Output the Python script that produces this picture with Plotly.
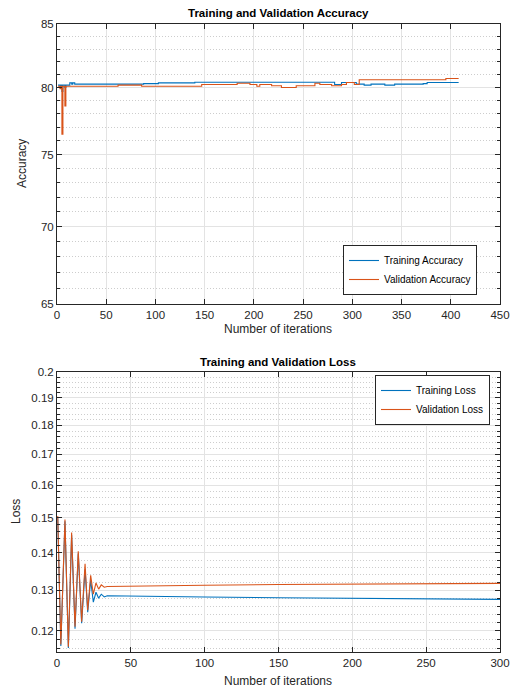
import math
import plotly.graph_objects as go

# ---------------- Data ----------------
# Accuracy (step change points: iteration -> value)
acc_train_iter = [1, 3, 4, 5, 6, 8, 9, 13, 15, 16, 18, 88, 103, 140, 282, 289, 304, 312, 319, 333, 343, 372, 376, 408]
acc_train_val = [80.18, 80.0, 80.18, 79.7, 80.18, 80.0, 80.18, 80.36, 80.26, 80.36, 80.26, 80.3, 80.36, 80.4,
                 80.23, 80.38, 80.26, 80.18, 80.26, 80.18, 80.26, 80.3, 80.38, 80.38]

acc_val_iter = [1, 3, 4, 5, 6, 8, 9, 62, 86, 147, 183, 196, 203, 206, 218, 228, 243, 262, 267, 279, 289, 294,
                302, 307, 395, 408]
acc_val_val = [80.1, 79.9, 80.1, 76.5, 80.1, 78.6, 80.1, 80.18, 80.1, 80.23, 80.33, 80.23, 80.1, 80.23, 80.13,
               80.0, 80.13, 80.33, 80.23, 80.13, 80.23, 80.38, 80.23, 80.6, 80.7, 80.7]

# Loss
loss_iter = [0.5, 2.6, 5.4, 7.7, 9.9, 12.2, 14.4, 16.7, 19, 20.8, 22.8, 24.6, 26.4, 28.2, 30, 32, 34,
             50, 100, 150, 200, 250, 300]
train_loss = [0.1500, 0.1165, 0.1490, 0.1160, 0.1450, 0.1205, 0.1398, 0.1218, 0.1355, 0.1245, 0.1326, 0.1270,
              0.1295, 0.1280, 0.1290, 0.1283, 0.1286, 0.1285, 0.1283, 0.1281, 0.1280, 0.1279, 0.1277]
val_loss = [0.1505, 0.1168, 0.1495, 0.1163, 0.1457, 0.1210, 0.1404, 0.1222, 0.1370, 0.1250, 0.1339, 0.1290,
            0.1319, 0.1303, 0.1314, 0.1308, 0.1310, 0.1311, 0.1313, 0.1315, 0.1316, 0.1317, 0.1318]

acc_ticks = [65, 70, 75, 80, 85]
acc_minor = [v for v in range(66, 85) if v % 5 != 0]
loss_ticks = [0.12, 0.13, 0.14, 0.15, 0.16, 0.17, 0.18, 0.19, 0.2]
loss_ticktext = ["0.12", "0.13", "0.14", "0.15", "0.16", "0.17", "0.18", "0.19", "0.2"]
loss_minor = [round(0.116 + 0.002 * i, 3) for i in range(43)]
loss_minor = [v for v in loss_minor if v < 0.2 and round(v * 1000) % 10 != 0]

BLUE = "#0072BD"
ORANGE = "#D95319"
AX = "#262626"
GRID = "#e3e3e3"
MINOR = "#cdcdcd"
FONT = "Liberation Sans, Arial, sans-serif"

fig = go.Figure()
fig.add_trace(go.Scatter(x=acc_train_iter, y=acc_train_val, mode="lines", line=dict(color=BLUE, width=1.1, shape="hv"),
                         name="Training Accuracy", xaxis="x", yaxis="y", legend="legend"))
fig.add_trace(go.Scatter(x=acc_val_iter, y=acc_val_val, mode="lines", line=dict(color=ORANGE, width=1.1, shape="hv"),
                         name="Validation Accuracy", xaxis="x", yaxis="y", legend="legend"))
fig.add_trace(go.Scatter(x=loss_iter, y=train_loss, mode="lines", line=dict(color=BLUE, width=1.1),
                         name="Training Loss", xaxis="x2", yaxis="y2", legend="legend2"))
fig.add_trace(go.Scatter(x=loss_iter, y=val_loss, mode="lines", line=dict(color=ORANGE, width=1.1),
                         name="Validation Loss", xaxis="x2", yaxis="y2", legend="legend2"))

W, H = 512, 692
xdom = [57 / W, 500 / W]
top_dom = [1 - 304 / H, 1 - 24.3 / H]
bot_dom = [1 - 652 / H, 1 - 372 / H]


def xax(rng, anchor):
    return dict(domain=xdom, anchor=anchor, range=rng, dtick=50, tick0=0, automargin=False,
                showline=True, linecolor=AX, linewidth=1, mirror="ticks",
                ticks="inside", ticklen=5, tickcolor=AX, tickwidth=1,
                showgrid=True, gridcolor=GRID, gridwidth=1, zeroline=False,
                tickfont=dict(family=FONT, size=11.5, color=AX))


def yax(rng, anchor, dom, tv, tt, minor):
    return dict(domain=dom, anchor=anchor, type="log", range=rng, automargin=False,
                tickmode="array", tickvals=tv, ticktext=tt,
                showline=True, linecolor=AX, linewidth=1, mirror="ticks",
                ticks="inside", ticklen=5, tickcolor=AX, tickwidth=1,
                showgrid=True, gridcolor=GRID, gridwidth=1, zeroline=False,
                tickfont=dict(family=FONT, size=11.5, color=AX),
                minor=dict(tickmode="array", tickvals=minor, ticks="inside", ticklen=3,
                           tickcolor=AX, showgrid=True, gridcolor=MINOR, griddash="1px,2px", gridwidth=1))


fig.update_layout(
    width=W, height=H, margin=dict(l=0, r=0, t=0, b=0, autoexpand=False),
    paper_bgcolor="white", plot_bgcolor="white",
    font=dict(family=FONT, color=AX),
    xaxis=xax([0, 450], "y"),
    yaxis=yax([math.log10(65), math.log10(85)], "x", top_dom, acc_ticks, [str(v) for v in acc_ticks], acc_minor),
    xaxis2=xax([0, 300], "y2"),
    yaxis2=yax([math.log10(0.1151), math.log10(0.2)], "x2", bot_dom, loss_ticks, loss_ticktext, loss_minor),
    legend=dict(x=343 / W, y=1 - 245 / H, xanchor="left", yanchor="top", bgcolor="white",
                bordercolor=AX, borderwidth=1, font=dict(family=FONT, size=10, color="#000"),
                tracegroupgap=0, itemwidth=30),
    legend2=dict(x=375 / W, y=1 - 375 / H, xanchor="left", yanchor="top", bgcolor="white",
                 bordercolor=AX, borderwidth=1, font=dict(family=FONT, size=10, color="#000"),
                 tracegroupgap=0, itemwidth=30),
    showlegend=True,
)

ann = [
    dict(text="<b>Training and Validation Accuracy</b>", x=278 / W, y=1 - 13 / H, size=11.5, angle=0),
    dict(text="<b>Training and Validation Loss</b>", x=278 / W, y=1 - 362 / H, size=11.5, angle=0),
    dict(text="Number of iterations", x=278 / W, y=1 - 329 / H, size=12, angle=0),
    dict(text="Number of iterations", x=278 / W, y=1 - 681 / H, size=12, angle=0),
    dict(text="Accuracy", x=22 / W, y=1 - 164 / H, size=12, angle=-90),
    dict(text="Loss", x=16 / W, y=1 - 512 / H, size=12, angle=-90),
]
for a in ann:
    fig.add_annotation(text=a["text"], x=a["x"], y=a["y"], xref="paper", yref="paper",
                       showarrow=False, xanchor="center", yanchor="middle", textangle=a["angle"],
                       font=dict(family=FONT, size=a["size"], color="#000" if "<b>" in a["text"] else AX))

fig.write_html("out.html", config={"displayModeBar": False},
               post_script="document.body.style.margin='0';document.body.style.overflow='hidden';")
